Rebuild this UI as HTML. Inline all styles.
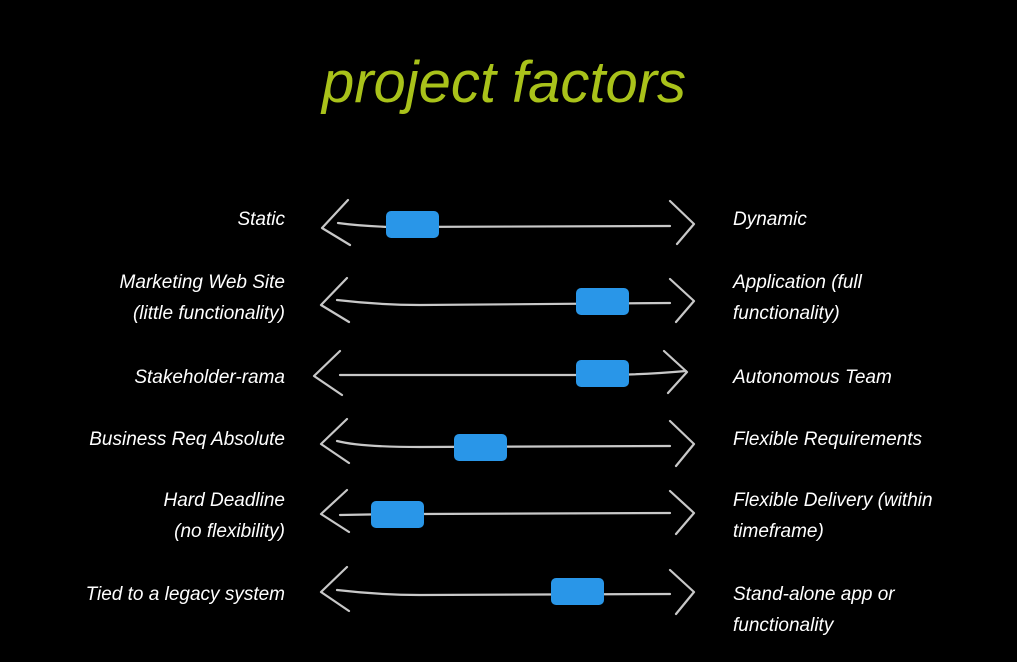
<!DOCTYPE html>
<html><head><meta charset="utf-8"><style>
html,body{margin:0;padding:0;background:#000;}
svg{display:block;}
text{font-family:"Liberation Sans","DejaVu Sans",sans-serif;font-style:italic;fill:#fff;}
</style></head><body>
<svg width="1017" height="662" viewBox="0 0 1017 662" xmlns="http://www.w3.org/2000/svg">
<rect width="1017" height="662" fill="#000"/>
<text x="322" y="102" font-size="58" textLength="364" lengthAdjust="spacingAndGlyphs" style="fill:#a9c21a">project factors</text>
<g stroke="#c8c8c8" stroke-width="2.2" fill="none" stroke-linecap="round" stroke-linejoin="round">
  <path d="M348 200 L322 228 L350 245 M338 223 Q360 226 390 227 L670 226 M670 201 L694 224 L677 244"/>
  <path d="M347 278 L321 305 L349 322 M337 300 Q380 305 420 305 L670 303 M670 279 L694 301 L676 322"/>
  <path d="M340 351 L314 376 L342 395 M340 375 L600 375 Q640 375 686 371 M664 351 L687 372 L668 393"/>
  <path d="M347 419 L321 444 L349 463 M337 441 Q360 447 420 447 L670 446 M670 421 L694 444 L676 466"/>
  <path d="M347 490 L321 514 L349 532 M340 515 Q380 514 420 514 L670 513 M670 491 L694 513 L676 534"/>
  <path d="M347 567 L321 592 L349 611 M337 590 Q380 595 420 595 L670 594 M670 570 L694 592 L676 614"/>
</g>
<g fill="#2996e8">
  <rect x="386" y="211" width="53" height="27" rx="5"/>
  <rect x="576" y="288" width="53" height="27" rx="5"/>
  <rect x="576" y="360" width="53" height="27" rx="5"/>
  <rect x="454" y="434" width="53" height="27" rx="5"/>
  <rect x="371" y="501" width="53" height="27" rx="5"/>
  <rect x="551" y="578" width="53" height="27" rx="5"/>
</g>
<g font-size="19" text-anchor="end">
  <text x="285" y="225">Static</text>
  <text x="285" y="288">Marketing Web Site</text>
  <text x="285" y="319">(little functionality)</text>
  <text x="285" y="383">Stakeholder-rama</text>
  <text x="285" y="445">Business Req Absolute</text>
  <text x="285" y="506">Hard Deadline</text>
  <text x="285" y="537">(no flexibility)</text>
  <text x="285" y="600">Tied to a legacy system</text>
</g>
<g font-size="19">
  <text x="733" y="225">Dynamic</text>
  <text x="733" y="288">Application (full</text>
  <text x="733" y="319">functionality)</text>
  <text x="733" y="383">Autonomous Team</text>
  <text x="733" y="445">Flexible Requirements</text>
  <text x="733" y="506">Flexible Delivery (within</text>
  <text x="733" y="537">timeframe)</text>
  <text x="733" y="600">Stand-alone app or</text>
  <text x="733" y="631">functionality</text>
</g>
</svg>
</body></html>
